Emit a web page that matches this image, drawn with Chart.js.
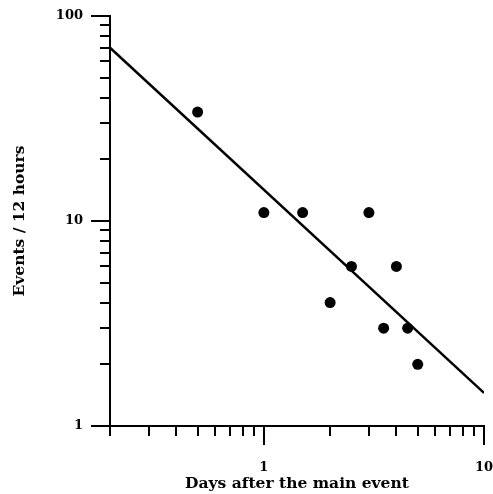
<!DOCTYPE html>
<html>
<head>
<meta charset="utf-8">
<script src="https://cdn.jsdelivr.net/npm/chart.js@4.4.1/dist/chart.umd.min.js"></script>
<style>
    html, body { margin: 0; padding: 0; background: #fff; }
    #wrap { width: 493px; height: 494px; }
</style>
</head>
<body>
<div id="wrap"><canvas id="chart" width="493" height="494"></canvas></div>
<script>
// Beobachtete Ereignisse pro 12 Stunden
const days = [0.5, 1, 1.5, 2, 2.5, 3, 3.5, 4, 4.5, 5];
const events = [34, 11, 11, 4, 6, 11, 3, 6, 3, 2];

// Angepasste Gerade (Endpunkte)
const fitDays = [0.2, 10];
const fitEvents = [70, 1.45];

// Tick-Positionen und Beschriftungen
const xTickValues = [0.2, 0.3, 0.4, 0.5, 0.6, 0.7, 0.8, 0.9, 1, 2, 3, 4, 5, 6, 7, 8, 9, 10];
const yTickValues = [1, 2, 3, 4, 5, 6, 7, 8, 9, 10, 20, 30, 40, 50, 60, 70, 80, 90, 100];
const xTickLabels = ['1', '10'];
const yTickLabels = ['1', '10', '100'];

const FONT = "'DejaVu Serif', 'Liberation Serif', serif";
const MAJOR_LEN = 19;
const MINOR_LEN = 10;

const isMajor = (v) => Math.abs(Math.log10(v) - Math.round(Math.log10(v))) < 1e-9;

// Zeichnet Haupt- und Nebenticks nach aussen
const tickMarks = {
    id: 'tickMarks',
    afterDraw(chart) {
        const { ctx, chartArea, scales } = chart;
        ctx.save();
        ctx.strokeStyle = '#000';
        ctx.lineWidth = 2;
        ctx.beginPath();
        xTickValues.forEach(v => {
            const px = Math.round(scales.x.getPixelForValue(v));
            const len = isMajor(v) ? MAJOR_LEN : MINOR_LEN;
            ctx.moveTo(px, chartArea.bottom);
            ctx.lineTo(px, chartArea.bottom + len);
        });
        yTickValues.forEach(v => {
            const py = Math.round(scales.y.getPixelForValue(v));
            const len = isMajor(v) ? MAJOR_LEN : MINOR_LEN;
            ctx.moveTo(chartArea.left, py);
            ctx.lineTo(chartArea.left - len, py);
        });
        ctx.stroke();
        ctx.restore();
    }
};

const ctx = document.getElementById('chart').getContext('2d');

new Chart(ctx, {
    type: 'scatter',
    data: {
        datasets: [
            {
                type: 'line',
                label: 'fit',
                data: fitDays.map((d, i) => ({ x: d, y: fitEvents[i] })),
                borderColor: '#000',
                borderWidth: 2.5,
                pointRadius: 0,
                fill: false
            },
            {
                label: 'events',
                data: days.map((d, i) => ({ x: d, y: events[i] })),
                backgroundColor: '#000',
                borderColor: '#000',
                pointRadius: 5.5,
                pointBorderWidth: 0
            }
        ]
    },
    options: {
        responsive: false,
        animation: false,
        devicePixelRatio: 1,
        layout: { padding: { top: 16, right: 9, left: 0, bottom: 0 } },
        plugins: {
            legend: { display: false },
            tooltip: { enabled: false }
        },
        scales: {
            x: {
                type: 'logarithmic',
                min: 0.2,
                max: 10,
                afterBuildTicks: (s) => { s.ticks = xTickValues.map(v => ({ value: v })); },
                afterFit: (s) => {
                    s.height = 68;
                    s.paddingLeft = 0;
                    s.paddingRight = 0;
                },
                ticks: {
                    autoSkip: false,
                    maxRotation: 0,
                    padding: 15,
                    color: '#000',
                    font: { family: FONT, size: 13, weight: 'bold' },
                    callback: (v) => xTickLabels.includes(String(v)) ? String(v) : ''
                },
                grid: { drawOnChartArea: false, drawTicks: true, tickLength: MAJOR_LEN, tickColor: 'transparent' },
                border: { display: true, color: '#000', width: 2 },
                title: {
                    display: true,
                    text: 'Days after the main event',
                    color: '#000',
                    font: { family: FONT, size: 15.5, weight: 'bold' },
                    padding: { top: 0, bottom: 1 }
                }
            },
            y: {
                type: 'logarithmic',
                min: 1,
                max: 100,
                afterBuildTicks: (s) => { s.ticks = yTickValues.map(v => ({ value: v })); },
                afterFit: (s) => {
                    s.width = 110;
                    s.paddingTop = 0;
                    s.paddingBottom = 0;
                },
                ticks: {
                    autoSkip: false,
                    padding: 8,
                    color: '#000',
                    font: { family: FONT, size: 13, weight: 'bold' },
                    callback: (v) => yTickLabels.includes(String(v)) ? String(v) : ''
                },
                grid: { drawOnChartArea: false, drawTicks: true, tickLength: MAJOR_LEN, tickColor: 'transparent' },
                border: { display: true, color: '#000', width: 2 },
                title: {
                    display: true,
                    text: 'Events / 12 hours',
                    color: '#000',
                    font: { family: FONT, size: 15.5, weight: 'bold' },
                    padding: { top: 11, bottom: 0 }
                }
            }
        }
    },
    plugins: [tickMarks]
});
</script>
</body>
</html>
